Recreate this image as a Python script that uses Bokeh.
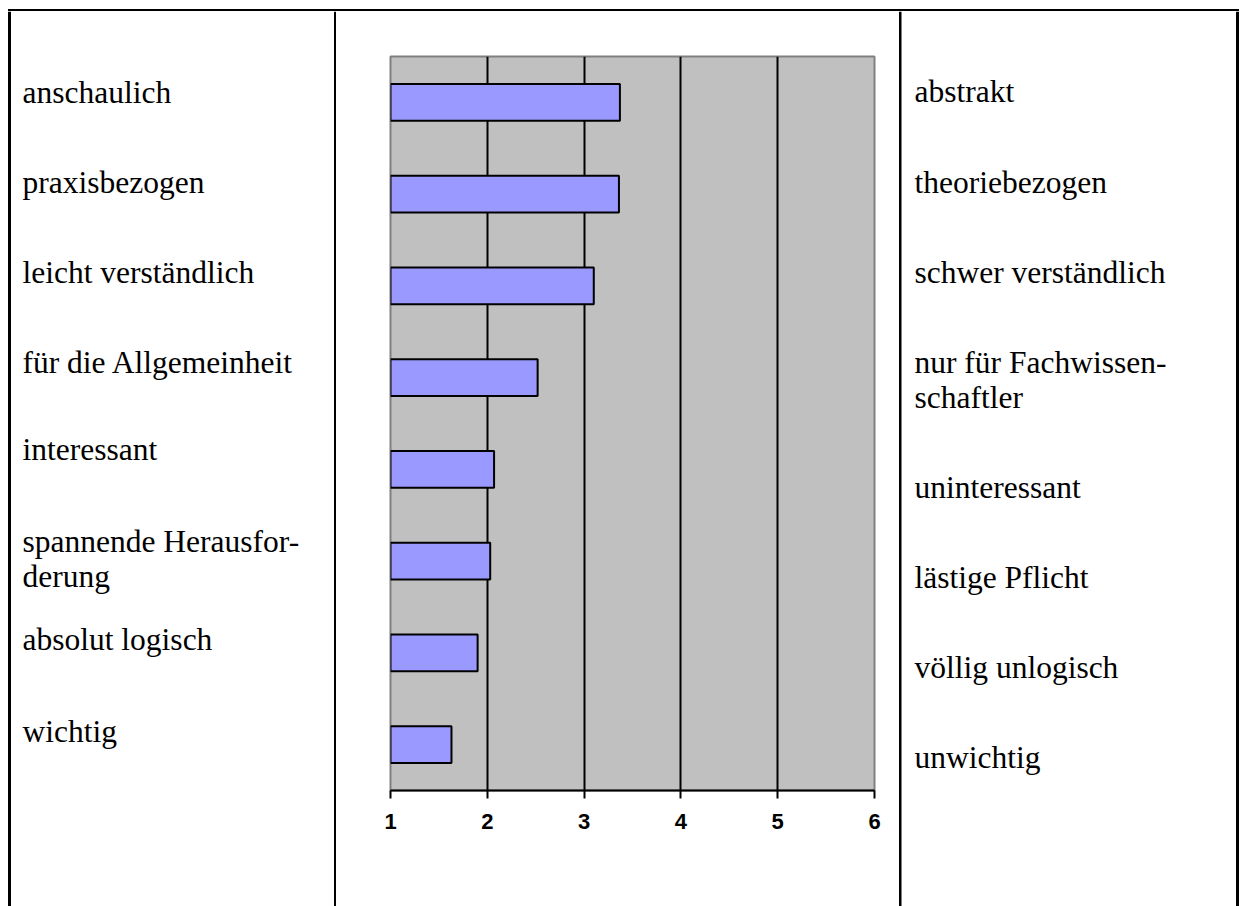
from bokeh.plotting import figure
from bokeh.models import Range1d, FactorRange, FixedTicker
from bokeh.layouts import row, column
from bokeh.core.properties import value
from bokeh.embed import file_html
from bokeh.resources import INLINE

# ---- data ----
categories = ["anschaulich", "praxisbezogen", "leicht verständlich",
              "für die Allgemeinheit", "interessant",
              "spannende Herausforderung", "absolut logisch", "wichtig"]
values = [3.37, 3.36, 3.10, 2.52, 2.07, 2.03, 1.90, 1.63]
left_labels = [["anschaulich"], ["praxisbezogen"], ["leicht verständlich"],
               ["für die Allgemeinheit"], ["interessant"],
               ["spannende Herausfor-", "derung"], ["absolut logisch"], ["wichtig"]]
right_labels = [["abstrakt"], ["theoriebezogen"], ["schwer verständlich"],
                ["nur für Fachwissen-", "schaftler"], ["uninteressant"],
                ["lästige Pflicht"], ["völlig unlogisch"], ["unwichtig"]]
tick_values = [1, 2, 3, 4, 5, 6]
x_start, x_end = 1, 6

# ---- layout constants (canvas pixels) ----
W, H = 1245, 906
TOP_H = 11                      # strip holding the top rule
A_W, C_X = 336, 898             # column boundaries
B_W = C_X - A_W
C_W = W - C_X
FL, FR, FT, FB = 390, 874, 56, 790   # chart frame on the page
left_base = [92, 182, 272, 362, 449, 541, 639, 731]
right_base = [91, 182, 272, 362, 487, 577, 667, 757]
LINE_H = 35
TEXT_FONT = "Liberation Serif"
TEXT_SIZE = "31.5px"


def blank_fig(w, h, x0, y0):
    f = figure(width=w, height=h, output_backend="svg", toolbar_location=None,
               x_range=Range1d(x0, x0 + w), y_range=Range1d(y0 + h, y0),
               x_axis_location=None, y_axis_location=None, min_border=0,
               frame_align=False)
    f.grid.visible = False
    f.outline_line_color = None
    f.background_fill_color = "white"
    f.border_fill_color = "white"
    return f


def rules(f, rects):
    f.quad(left=[r[0] for r in rects], right=[r[1] for r in rects],
           top=[r[2] for r in rects], bottom=[r[3] for r in rects],
           fill_color="black", line_color=None)


def texts(f, x, bases, labels):
    xs, ys, ts = [], [], []
    for b, lines in zip(bases, labels):
        for i, t in enumerate(lines):
            xs.append(x)
            ys.append(b + i * LINE_H)
            ts.append(t)
    f.text(x=xs, y=ys, text=ts, text_font=value(TEXT_FONT), text_font_size=value(TEXT_SIZE),
           text_color="black", text_baseline="alphabetic", text_align="left")


vlines = [(7.5, 10.5), (333.5, 336), (898.5, 901), (1235.5, 1238.5)]

# top strip
top = blank_fig(W, TOP_H, 0, 0)
rules(top, [(7.5, 1238.5, 7.5, 10.5)] + [(a, b, 7.5, TOP_H) for a, b in vlines])

# left column
A = blank_fig(A_W, H - TOP_H, 0, TOP_H)
rules(A, [(a, b, TOP_H, H) for a, b in vlines if b <= A_W])
texts(A, 22, left_base, left_labels)

# right column
C = blank_fig(C_W, H - TOP_H, C_X, TOP_H)
rules(C, [(a, b, TOP_H, H) for a, b in vlines if a >= C_X])
texts(C, 914, right_base, right_labels)

# chart
p = figure(width=B_W, height=H - TOP_H, output_backend="svg", toolbar_location=None,
           x_range=Range1d(x_start, x_end),
           y_range=FactorRange(factors=list(reversed(categories))),
           min_border_left=FL - A_W, min_border_right=C_X - FR,
           min_border_top=FT - TOP_H, min_border_bottom=H - FB,
           y_axis_location=None, frame_align=False)

p.background_fill_color = "#C0C0C0"
p.border_fill_color = "white"
p.outline_line_color = "#808080"
p.outline_line_width = 2

p.hbar(y=categories, left=x_start, right=values, height=0.4,
       fill_color="#9999FF", line_color="black", line_width=2)

p.ygrid.visible = False
p.xgrid.ticker = FixedTicker(ticks=tick_values[1:-1])
p.xgrid.grid_line_color = "black"
p.xgrid.grid_line_width = 2

ax = p.xaxis[0]
ax.ticker = FixedTicker(ticks=tick_values)
ax.axis_line_color = "black"
ax.axis_line_width = 2
ax.major_tick_line_color = "black"
ax.major_tick_line_width = 2
ax.major_tick_in = 0
ax.major_tick_out = 8
ax.minor_tick_line_color = None
ax.major_label_text_font = "Liberation Sans"
ax.major_label_text_font_style = "bold"
ax.major_label_text_font_size = "22px"
ax.major_label_text_color = "black"
ax.major_label_standoff = 15

layout = column(top, row(A, p, C, spacing=0), spacing=0)

open("out.html", "w").write(file_html(layout, INLINE))
